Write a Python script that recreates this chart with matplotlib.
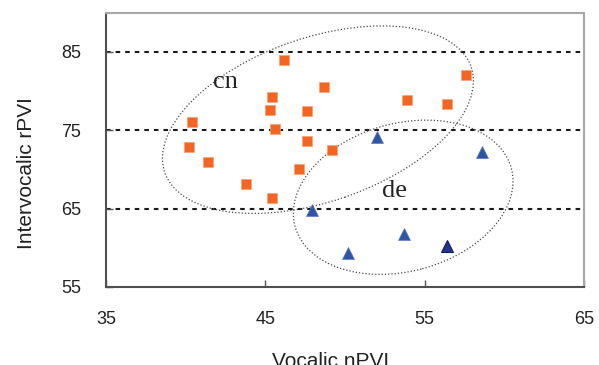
import matplotlib
matplotlib.use("Agg")
import matplotlib.pyplot as plt
from matplotlib.patches import Ellipse
from matplotlib.transforms import ScaledTranslation

# Vocalic nPVI (x) vs intervocalic rPVI (y)
cn_x = [46.2, 48.7, 45.4, 45.3, 47.6, 40.4, 45.6, 47.6, 49.2, 40.2, 41.4, 47.1, 43.8, 45.4, 57.6, 53.9, 56.4]
cn_y = [84.0, 80.5, 79.3, 77.6, 77.4, 76.1, 75.1, 73.6, 72.5, 72.8, 70.9, 70.0, 68.1, 66.3, 82.0, 78.9, 78.3]
de_x = [52.0, 58.6, 47.9, 53.7, 50.2]
de_y = [74.1, 72.2, 64.8, 61.8, 59.4]
de_dark_x = [56.4]
de_dark_y = [60.2]

x_ticks = [35, 45, 55, 65]
y_ticks = [55, 65, 75, 85]
ref_lines = [65, 75, 85]

ORANGE = "#F26522"
BLUE = "#2F55A5"
NAVY = "#23358C"
INK = "#222222"

plt.rcParams["font.family"] = ["Liberation Sans", "DejaVu Sans"]

fig = plt.figure(figsize=(5.99, 3.65), dpi=100)
ax = fig.add_axes([0.177, 0.2137, 0.798, 0.7515])

for y in ref_lines:
    ax.axhline(y, color="#1a1a1a", lw=1.5, dashes=(2.2, 2.4), zorder=1)

# dotted group outlines, sized in inches so they keep their shape on screen
groups = [
    # label, centre (data), width/height (in), angle, label position
    ("cn", (48.3, 76.35), 3.24, 1.64, 19, (42.5, 81.1)),
    ("de", (53.65, 66.45), 2.24, 1.48, 15, (53.1, 67.2)),
]
for name, (cx, cy), w, h, ang, (tx, ty) in groups:
    tr = fig.dpi_scale_trans + ScaledTranslation(cx, cy, ax.transData)
    ax.add_patch(Ellipse((0, 0), w, h, angle=ang, transform=tr, fill=False,
                         ec="#4a4a4a", lw=0.9, ls=(0, (1, 1.6)), zorder=2))
    ax.text(tx, ty, name, fontsize=19, family=["Liberation Serif", "DejaVu Serif"],
            color=INK, ha="center", va="center", zorder=3)

ax.plot(cn_x, cn_y, ls="none", marker="s", ms=7, mfc=ORANGE, mec="#F7A072", mew=0.5, zorder=4)
ax.plot(de_x, de_y, ls="none", marker="^", ms=8.5, mfc=BLUE, mec="#5A7AC0", mew=0.5, zorder=4)
ax.plot(de_dark_x, de_dark_y, ls="none", marker="^", ms=8.5, mfc=NAVY, mec="#161F5C", mew=0.8, zorder=4)

ax.set_xlim(35, 65)
ax.set_ylim(55, 90)
ax.set_xticks(x_ticks)
ax.set_yticks(y_ticks)
ax.tick_params(axis="both", direction="in", length=5, width=1, colors="#555555",
               labelsize=13, labelcolor=INK)
ax.tick_params(axis="x", pad=17)
ax.tick_params(axis="y", pad=18)

for side in ["left", "bottom"]:
    ax.spines[side].set_color("#505050")
    ax.spines[side].set_linewidth(1.5)
for side in ["top", "right"]:
    ax.spines[side].set_color("#a8a8a8")
    ax.spines[side].set_linewidth(1.5)

ax.set_xlabel("Vocalic nPVI", fontsize=15, color=INK, va="center")
ax.xaxis.set_label_coords(0.469, -0.272)
ax.set_ylabel("Intervocalic rPVI", fontsize=15, color=INK, va="center")
ax.yaxis.set_label_coords(-0.167, 0.414)

fig.savefig("out.png", dpi=100)
